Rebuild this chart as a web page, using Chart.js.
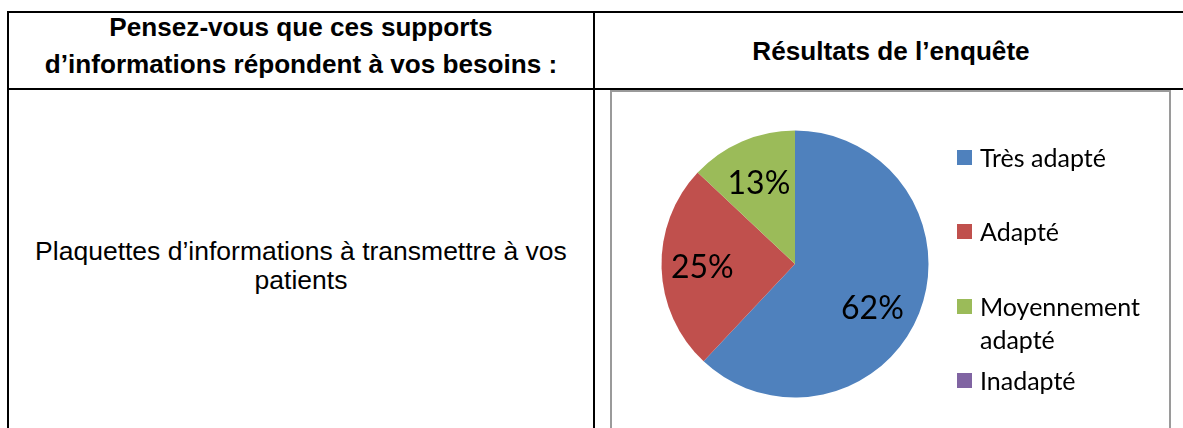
<!DOCTYPE html>
<html lang="fr">
<head>
<meta charset="utf-8">
<title>Résultats de l'enquête</title>
<script src="https://cdn.jsdelivr.net/npm/chart.js@4.4.1/dist/chart.umd.min.js"></script>
<style>
  html, body { margin: 0; padding: 0; background: #fff; width: 1183px; height: 428px; overflow: hidden; position: relative; }
  .rule { position: absolute; background: #000; }
  .cell-text {
    position: absolute;
    font-family: "Liberation Sans", Arial, sans-serif;
    color: #000;
    text-align: center;
    white-space: nowrap;
  }
  .head { font-weight: bold; font-size: 25px; line-height: 37px; transform: scaleX(1.045); }
  .body-text { font-size: 25px; line-height: 29px; transform: scaleX(1.06); }
  #chartBox {
    position: absolute; left: 610px; top: 90px; width: 561px; height: 400px;
    border: 2px solid #9a9a9a; box-sizing: border-box;
  }
  #chartWrap { position: absolute; left: 612px; top: 92px; width: 557px; height: 336px; }
  #legend {
    position: absolute; left: 957px; top: 141px;
    font-family: Lato, "Open Sans", sans-serif; font-size: 25px; line-height: 33px; color: #000;
  }
  #legend .item { display: flex; align-items: flex-start; height: 74.3px; }
  #legend .swatch { width: 15px; height: 15px; margin-top: 9px; margin-right: 8px; flex: none; }
  #legend .label { width: 185px; }
</style>
</head>
<body>
  <!-- table grid -->
  <div class="rule" style="left:7px;top:11px;width:1176px;height:2px"></div>
  <div class="rule" style="left:7px;top:11px;width:2px;height:417px"></div>
  <div class="rule" style="left:593px;top:11px;width:2px;height:417px"></div>
  <div class="rule" style="left:7px;top:88px;width:1176px;height:2px"></div>

  <div class="cell-text head" style="left:9px;width:584px;top:9px">Pensez-vous que ces supports<br>d’informations répondent à vos besoins :</div>
  <div class="cell-text head" style="left:595px;width:592px;top:33px">Résultats de l’enquête</div>
  <div class="cell-text body-text" style="left:9px;width:584px;top:237px">Plaquettes d’informations à transmettre à vos<br>patients</div>

  <div id="chartBox"></div>
  <div id="chartWrap"><canvas id="pieChart"></canvas></div>
  <div id="legend"></div>

<script>
// Survey answers (% of respondents)
const categories = ['Très adapté', 'Adapté', 'Moyennement adapté', 'Inadapté'];
const shares = [62, 25, 13, 0];
const sliceColors = ['#4F81BD', '#C0504D', '#9BBB59', '#8064A2'];

// percentage labels inside the slices (Excel "best fit" look)
const sliceLabels = {
  id: 'sliceLabels',
  afterDatasetsDraw(chart, args, opts) {
    const ctx = chart.ctx;
    const meta = chart.getDatasetMeta(0);
    ctx.save();
    ctx.font = '32px Lato, "Open Sans", sans-serif';
    ctx.fillStyle = '#000';
    ctx.textAlign = 'center';
    ctx.textBaseline = 'middle';
    meta.data.forEach((arc, i) => {
      const v = shares[i];
      if (!v) return;
      const { x, y, startAngle, endAngle, outerRadius } =
        arc.getProps(['x', 'y', 'startAngle', 'endAngle', 'outerRadius'], true);
      const mid = (startAngle + endAngle) / 2;
      const r = outerRadius * 0.68;
      const [dx, dy] = opts.nudge[i] || [0, 0];
      ctx.fillText(v + '%', x + Math.cos(mid) * r + dx, y + Math.sin(mid) * r + dy);
    });
    ctx.restore();
  },
};

new Chart(document.getElementById('pieChart'), {
  type: 'pie',
  data: {
    labels: categories,
    datasets: [{
      data: shares,
      backgroundColor: sliceColors,
      borderWidth: 0,
    }],
  },
  options: {
    responsive: true,
    maintainAspectRatio: false,
    animation: false,
    events: [],
    radius: 133.5,
    layout: { padding: { left: 48, right: 239, top: 37, bottom: 29 } },
    plugins: {
      legend: { display: false },
      tooltip: { enabled: false },
      sliceLabels: { nudge: [[-7, 11], [-2, 1], [0, 3]] },
    },
  },
  plugins: [sliceLabels],
});

// legend, Excel style: one fixed slot per entry
document.getElementById('legend').innerHTML = categories.map((c, i) =>
  `<div class="item"><span class="swatch" style="background:${sliceColors[i]}"></span><span class="label">${c}</span></div>`
).join('');
</script>
</body>
</html>
